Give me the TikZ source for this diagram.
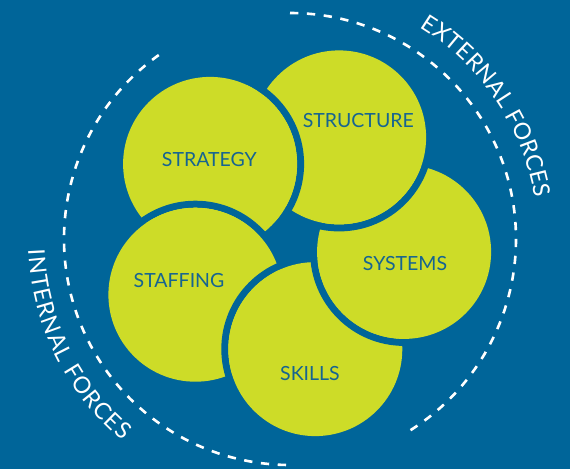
\documentclass[tikz,border=0pt]{standalone}
\usepackage{fontspec}
\setmainfont{Lato}
\usetikzlibrary{decorations.text}
\definecolor{bgblue}{RGB}{0,101,153}
\definecolor{lime}{RGB}{205,220,40}
\definecolor{txtblue}{RGB}{22,100,145}
\newcommand{\forcefont}{\fontsize{23}{23}\selectfont\color{white}}
\tikzset{
  ring/.style={fill=bgblue},
  disc/.style={fill=lime},
  lbl/.style={anchor=base, text=txtblue, font=\fontsize{19.5}{19.5}\selectfont, inner sep=0pt},
  dasharc/.style={white, line width=2.6pt, dash pattern=on 8.3pt off 8.6pt},
}
\begin{document}
\begin{tikzpicture}[x=1pt,y=1pt]
\fill[bgblue] (0,0) rectangle (570,469);
\useasboundingbox (0,0) rectangle (570,469);
% centres
\coordinate (cstrat) at (210.1,305.1);
\coordinate (cstruc) at (339.1,331.6);
\coordinate (csys) at (404.1,217.1);
\coordinate (cskill) at (315.3,119.9);
\coordinate (cstaff) at (195.4,174.3);
\coordinate (cring) at (290,230);
% dashed arcs
\draw[dasharc] ([shift={(90:226)}]cring) arc[start angle=90, end angle=-58.6, radius=226];
\draw[dasharc] ([shift={(125.5:226)}]cring) arc[start angle=125.5, end angle=270, radius=226];
% circles
\foreach \c in {cstrat,cstaff,cskill,csys,cstruc}{
  \fill[ring, even odd rule] (\c) circle[radius=94] circle[radius=87];
  \fill[disc] (\c) circle[radius=87];
}
\begin{scope}
  \clip (cstruc) circle[radius=106];
  \fill[ring, even odd rule] (cstrat) circle[radius=94] circle[radius=87];
  \fill[disc] (cstrat) circle[radius=87];
\end{scope}
% labels
\node[lbl] (tstrat) at (209.3,302.7) {STRATEGY};
\node[lbl] (tstruc) at (358.3,341) {STRUCTURE};
\node[lbl] (tsys) at (405,198.7) {SYSTEMS};
\node[lbl] (tstaff) at (179,181.3) {STAFFING};
\node[lbl] (tskill) at (310,88.7) {SKILLS};
% curved texts
\path[decorate, decoration={text along path, text align={fit to path},
  text={|\forcefont|EXTERNAL FORCES}}]
  ([shift={(58.5:248)}]cring) arc[start angle=58.5, end angle=9.5, radius=248];
\path[decorate, decoration={text along path, text align={fit to path},
  text={|\forcefont|INTERNAL FORCES}}]
  ([shift={(182.4:262)}]cring) arc[start angle=182.4, end angle=230.3, radius=262];
\end{tikzpicture}
\end{document}
